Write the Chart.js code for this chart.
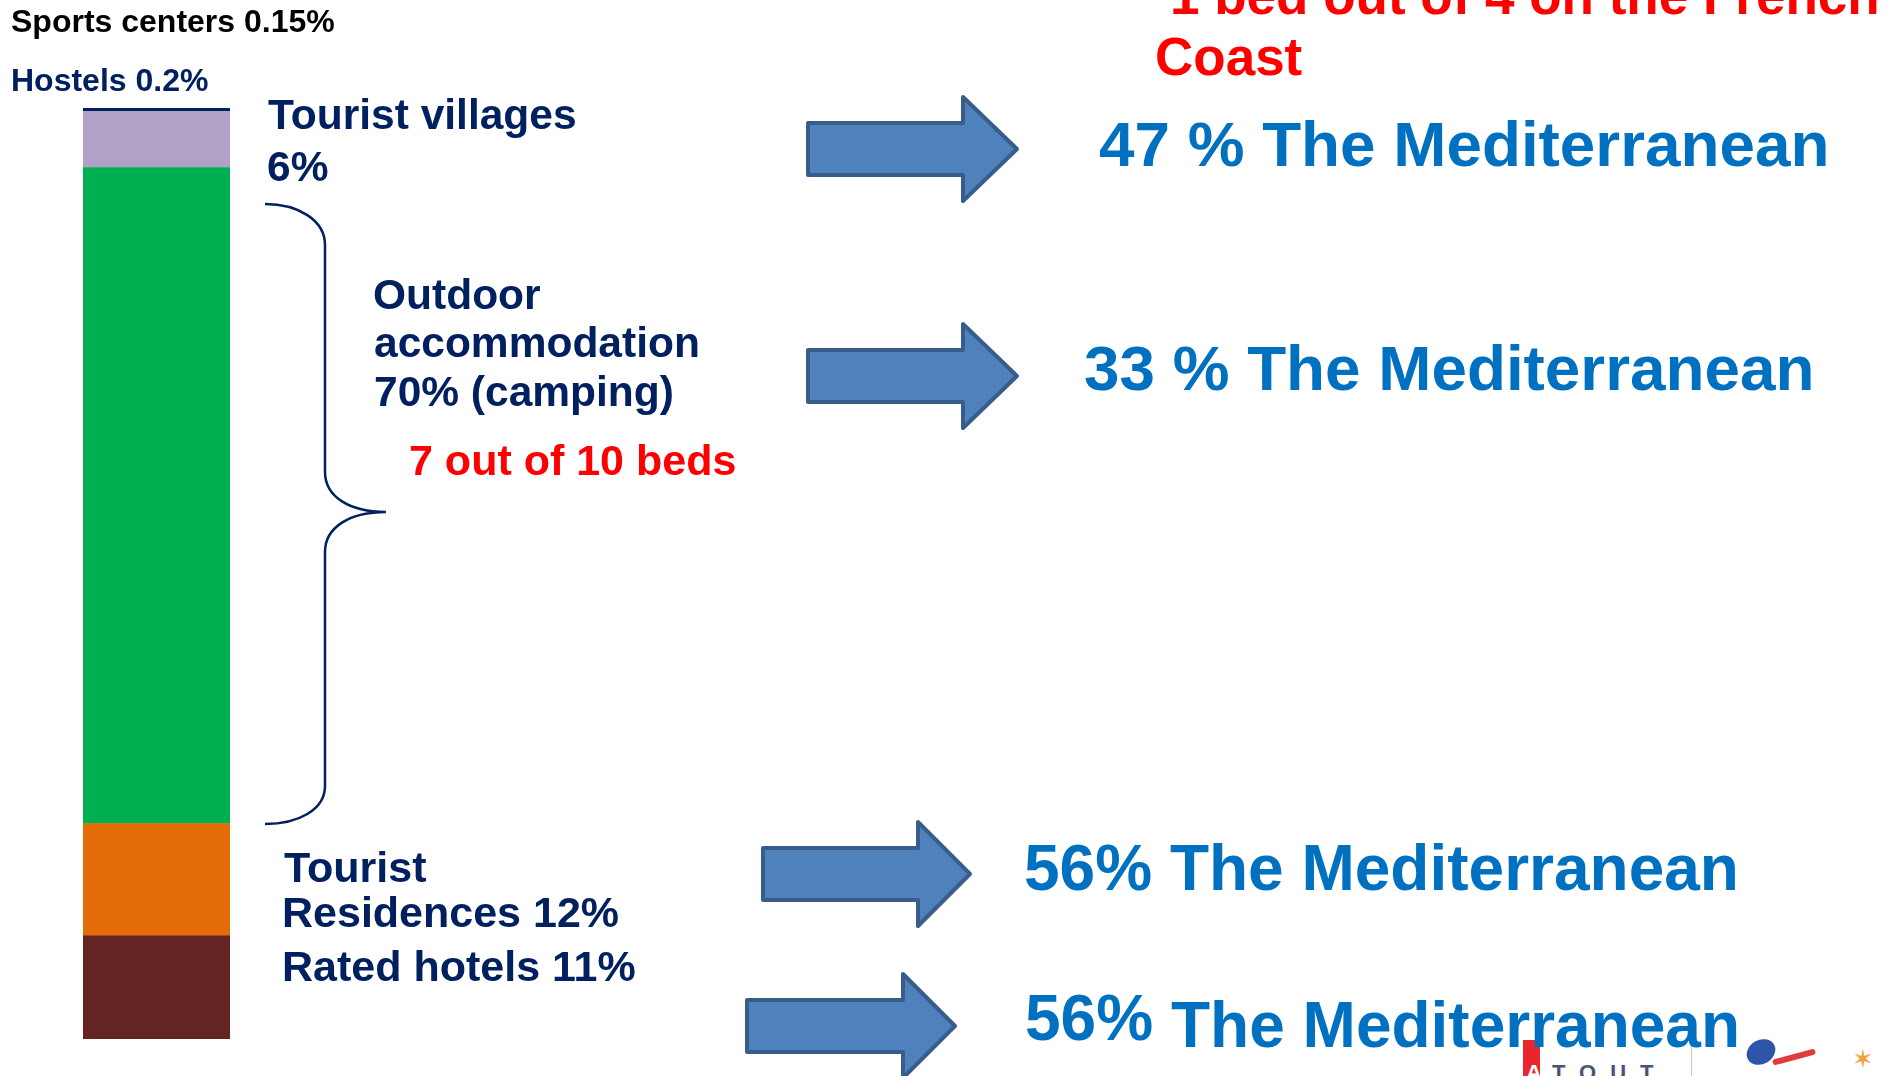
<!DOCTYPE html>
<html>
<head>
<meta charset="utf-8">
<script src="https://cdn.jsdelivr.net/npm/chart.js@4"></script>
<style>
  html, body { margin: 0; padding: 0; background: #fff; overflow: hidden; }
  #stage { position: relative; width: 1899px; height: 1076px; }
  #chart { position: absolute; left: 0; top: 0; }
  .lbl {
    position: absolute;
    white-space: nowrap;
    font-family: "Liberation Sans", Arial, sans-serif;
    font-weight: bold;
    line-height: 1;
  }
  .logo { position: absolute; }
</style>
</head>
<body>
<div id="stage">
  <!-- partner logos, bottom right (mostly cropped) -->
  <div class="logo" style="left:1523px;top:1040px;width:17px;height:36px;background:#e8262b;"></div>
  <div class="logo lbl" style="left:1526px;top:1062px;font-size:22px;color:#fff;">A</div>
  <div class="logo lbl" style="left:1552px;top:1062px;font-size:22px;letter-spacing:14px;color:#4a5276;">TOUT</div>
  <div class="logo" style="left:1691px;top:1040px;width:1px;height:36px;background:#c8c8c8;"></div>
  <div class="logo" style="left:1746px;top:1040px;width:30px;height:24px;border-radius:50%;background:#2e55a8;transform:rotate(-30deg);"></div>
  <div class="logo" style="left:1772px;top:1054px;width:44px;height:6px;border-radius:3px;background:#e03a3e;transform:rotate(-15deg);"></div>
  <div class="logo lbl" style="left:1852px;top:1046px;font-size:26px;color:#f0a040;font-weight:normal;">✶</div>

  <canvas id="chart" width="1899" height="1076"></canvas>
</div>

<script>
// ── data ────────────────────────────────────────────────────────
const categories = ['Tourist beds'];
const segmentNames = ['Rated hotels', 'Tourist Residences', 'Outdoor accommodation',
                      'Tourist villages', 'Hostels', 'Sports centers'];
const segmentShares = [11, 12, 70, 6, 0.2, 0.15];
const segmentColors = ['#632423', '#E36C09', '#00B050', '#B2A1C7', '#002060', '#002060'];

const total = segmentShares.reduce((a, b) => a + b, 0);

// ── arrows + brace drawn over the canvas ──
const NAVY = '#002060';

function drawArrow(ctx, x0, yc, headX, tipX) {
  const bodyHalf = 26, headHalf = 52;
  ctx.beginPath();
  ctx.moveTo(x0, yc - bodyHalf);
  ctx.lineTo(headX, yc - bodyHalf);
  ctx.lineTo(headX, yc - headHalf);
  ctx.lineTo(tipX, yc);
  ctx.lineTo(headX, yc + headHalf);
  ctx.lineTo(headX, yc + bodyHalf);
  ctx.lineTo(x0, yc + bodyHalf);
  ctx.closePath();
  ctx.fillStyle = '#4F81BD';
  ctx.fill();
  ctx.lineWidth = 4;
  ctx.lineJoin = 'round';
  ctx.strokeStyle = '#385D8A';
  ctx.stroke();
}

const decorations = {
  id: 'decorations',
  afterDraw(chart) {
    const ctx = chart.ctx;
    ctx.save();

    // curly brace next to the outdoor segment
    ctx.beginPath();
    ctx.moveTo(265, 204);
    ctx.bezierCurveTo(298, 204, 325, 220, 325, 245);
    ctx.lineTo(325, 472);
    ctx.bezierCurveTo(325, 497, 350, 512, 386, 512);
    ctx.moveTo(386, 512);
    ctx.bezierCurveTo(350, 512, 325, 527, 325, 552);
    ctx.lineTo(325, 786);
    ctx.bezierCurveTo(325, 810, 298, 824, 265, 824);
    ctx.lineWidth = 2.5;
    ctx.strokeStyle = NAVY;
    ctx.stroke();

    drawArrow(ctx, 808, 149, 963, 1017);
    drawArrow(ctx, 808, 376, 963, 1017);
    drawArrow(ctx, 763, 874, 918, 970);
    drawArrow(ctx, 747, 1026, 903, 955);

    ctx.restore();
  }
};

new Chart(document.getElementById('chart'), {
  type: 'bar',
  data: {
    labels: categories,
    datasets: segmentNames.map((name, i) => ({
      label: name,
      data: [segmentShares[i]],
      backgroundColor: segmentColors[i],
      borderWidth: 0,
      barPercentage: 1,
      categoryPercentage: 1
    }))
  },
  options: {
    responsive: false,
    animation: false,
    layout: { padding: { left: 83, right: 1669, top: 108, bottom: 37 } },
    plugins: { legend: { display: false }, tooltip: { enabled: false } },
    scales: {
      x: { stacked: true, display: false },
      y: { stacked: true, display: false, min: 0, max: total }
    }
  },
  plugins: [decorations]
});

// ── text labels (placed by baseline) ──
const stage = document.getElementById('stage');
function addText(text, x, base, size, color) {
  const d = document.createElement('div');
  d.className = 'lbl';
  d.textContent = text;
  d.style.left = x + 'px';
  d.style.top = (base - 0.8465 * size) + 'px';
  d.style.fontSize = size + 'px';
  d.style.color = color;
  stage.appendChild(d);
}

const RED = '#FF0000', BLUE = '#0070C0';

addText('Sports centers 0.15%', 11, 32, 32, '#000');
addText('Hostels 0.2%', 11, 91, 32, NAVY);

addText('Tourist villages', 268, 130, 42.5, NAVY);
addText('6%', 267, 182, 42.5, NAVY);

addText('Outdoor', 373, 310, 42.5, NAVY);
addText('accommodation', 374, 358, 42.5, NAVY);
addText('70% (camping)', 374, 407, 42.5, NAVY);
addText('7 out of 10 beds', 409, 475, 43, RED);

addText('Tourist', 284, 882, 43, NAVY);
addText('Residences 12%', 282, 927, 43, NAVY);
addText('Rated hotels 11%', 282, 981, 43, NAVY);

addText('1 bed out of 4 on the French', 1170, 14, 53, RED);
addText('Coast', 1155, 75, 53, RED);

addText('47 % The Mediterranean', 1099, 167, 63.8, BLUE);
addText('33 % The Mediterranean', 1084, 391, 63.8, BLUE);
addText('56% The Mediterranean', 1024, 890, 64, BLUE);
addText('56%', 1025, 1040, 64, BLUE);
addText('The Mediterranean', 1171, 1047, 64, BLUE);
</script>
</body>
</html>
